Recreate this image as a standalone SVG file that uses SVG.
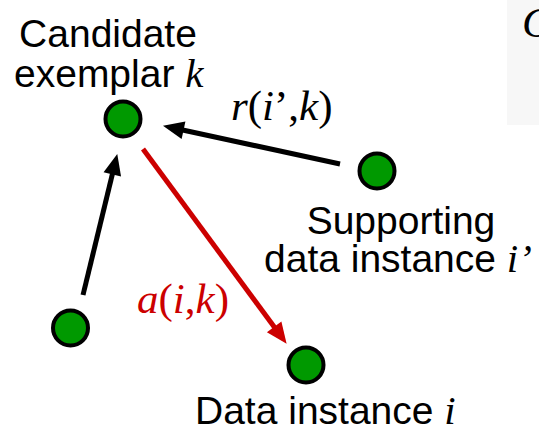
<svg xmlns="http://www.w3.org/2000/svg" width="539" height="432" viewBox="0 0 539 432">
<defs>
<style>
.node{fill:#009900;stroke:#000;stroke-width:4}
.lbl{font-family:"Liberation Sans",Arial,sans-serif;font-size:39px;fill:#000}
.math{font-family:"Liberation Serif","Times New Roman",serif;font-size:43px}
.it{font-style:italic}
.edge{fill:none;stroke-width:5}
</style>
<marker id="ahB" markerUnits="userSpaceOnUse" markerWidth="22" markerHeight="20" refX="8" refY="9" orient="auto" overflow="visible">
<path d="M0,0 L21,9 L0,18 z" fill="#000"/>
</marker>
<marker id="ahR" markerUnits="userSpaceOnUse" markerWidth="22" markerHeight="20" refX="8" refY="9" orient="auto" overflow="visible">
<path d="M0,0 L21,9 L0,18 z" fill="#cc0000"/>
</marker>
</defs>
<rect width="539" height="432" fill="#fff"/>
<rect x="507" y="0" width="32" height="125" fill="#f7f7f7"/>
<text x="522" y="37" class="math it" fill="#000">C</text>
<g id="connectors">
<line class="edge" x1="340" y1="164" x2="175.7" y2="128.5" stroke="#000" marker-end="url(#ahB)"/>
<line class="edge" x1="83" y1="295" x2="114.2" y2="166.7" stroke="#000" marker-end="url(#ahB)"/>
<line class="edge" x1="143" y1="149" x2="278.9" y2="333.3" stroke="#cc0000" marker-end="url(#ahR)"/>
<text class="math" x="231" y="120" fill="#000"><tspan class="it">r</tspan>(<tspan class="it">i</tspan>’,<tspan class="it">k</tspan>)</text>
<text class="math" x="137" y="313" fill="#cc0000"><tspan class="it">a</tspan>(<tspan class="it">i</tspan>,<tspan class="it">k</tspan>)</text>
</g>
<g id="node-k">
<circle class="node" cx="123" cy="119" r="17.5"/>
<text class="lbl" x="108" y="47" text-anchor="middle">Candidate</text>
<text class="lbl" x="14" y="87">exemplar <tspan class="math it" style="font-size:41px">k</tspan></text>
</g>
<g id="node-iprime">
<circle class="node" cx="377" cy="171" r="17.5"/>
<text class="lbl" x="401" y="234" text-anchor="middle">Supporting</text>
<text class="lbl" x="264" y="272">data instance <tspan class="math it" style="font-size:41px">i’</tspan></text>
</g>
<g id="node-left">
<circle class="node" cx="70.5" cy="328" r="17.5"/>
</g>
<g id="node-i">
<circle class="node" cx="306" cy="365" r="17.5"/>
<text class="lbl" x="195" y="424">Data instance <tspan class="math it" style="font-size:41px">i</tspan></text>
</g>
</svg>
